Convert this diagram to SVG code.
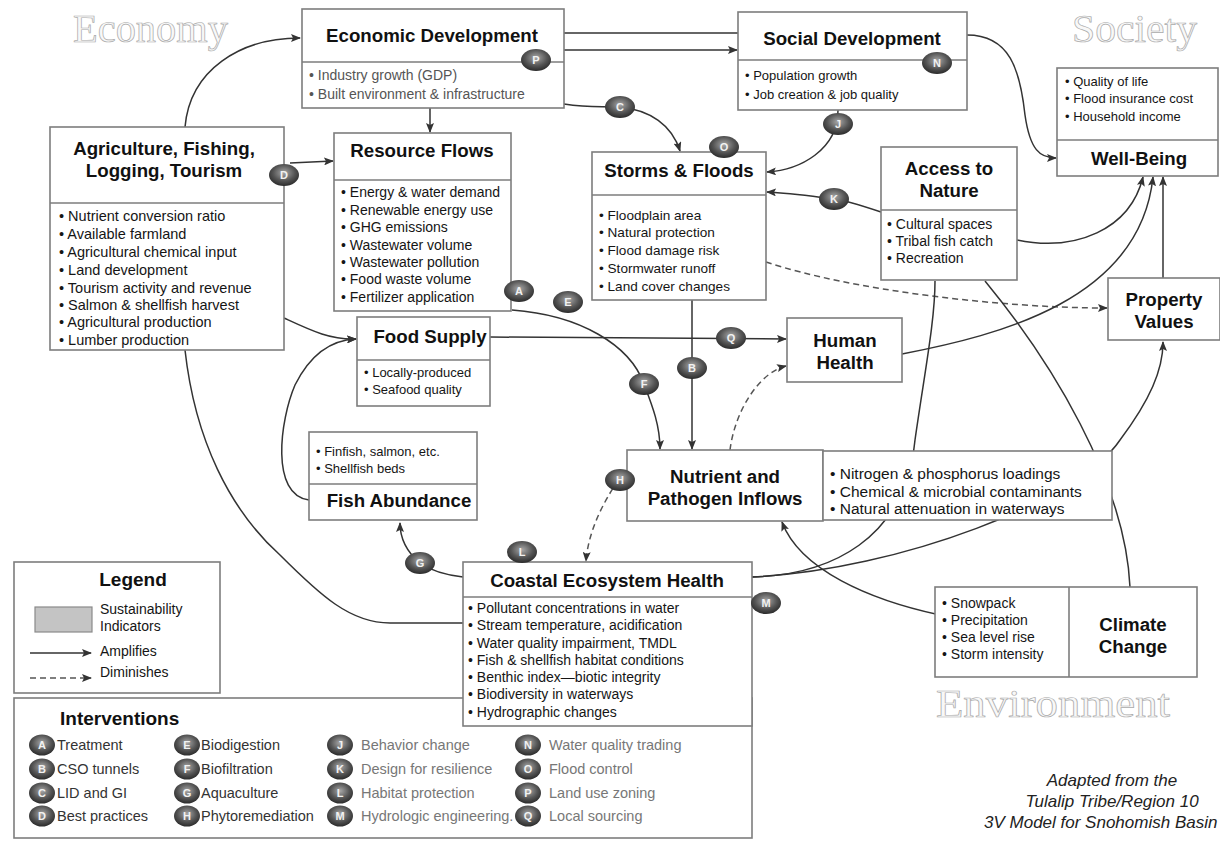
<svg xmlns="http://www.w3.org/2000/svg" width="1220" height="841" viewBox="0 0 1220 841">
<defs>
<style>
.box{fill:#fff;stroke:#7d7d7d;stroke-width:1.6}
.t{font-family:"Liberation Sans",Arial,sans-serif;font-weight:bold;font-size:18.7px;fill:#111;text-anchor:middle}
.b{font-family:"Liberation Sans",Arial,sans-serif;font-size:13px;fill:#151515}
.s136{font-size:13.6px}
.s14{font-size:14px}
.s145{font-size:14.5px}
.s155{font-size:15.5px}
.g{fill:#555}
.c{fill:none;stroke:#333;stroke-width:1.5}
.d{stroke-dasharray:6 4;stroke:#555}
.big{font-family:"Liberation Serif","Times New Roman",serif;font-size:40px;fill:#f8f8f8;stroke:#aaaaaa;stroke-width:0.7}
.bl{font-family:"Liberation Sans",Arial,sans-serif;font-weight:bold;font-size:11px;fill:#f2f2f2;text-anchor:middle}
.iv{font-family:"Liberation Sans",Arial,sans-serif;font-size:14.5px;fill:#333}
.iv2{fill:#777}
.cap{font-family:"Liberation Sans",Arial,sans-serif;font-style:italic;font-size:17px;fill:#222}
</style>
<radialGradient id="bg" cx="0.5" cy="0.4" r="0.6">
<stop offset="0" stop-color="#a8a8a8"/>
<stop offset="0.6" stop-color="#555"/>
<stop offset="1" stop-color="#2b2b2b"/>
</radialGradient>
<marker id="ar" viewBox="0 0 10 8" refX="9" refY="4" markerWidth="10" markerHeight="8" markerUnits="userSpaceOnUse" orient="auto">
<path d="M0,0 L10,4 L0,8 L2,4 z" fill="#333"/>
</marker>
</defs>
<rect width="1220" height="841" fill="#fff"/>

<g id="region-labels">
<text class="big" x="73" y="42" textLength="155" lengthAdjust="spacingAndGlyphs">Economy</text>
<text class="big" x="1072" y="42" textLength="125" lengthAdjust="spacingAndGlyphs">Society</text>
<text class="big" x="936" y="717" font-size="36" textLength="234" lengthAdjust="spacingAndGlyphs">Environment</text>
</g>

<g id="connectors">
<path class="c" d="M185,127 C190,70 240,38 300,38" marker-end="url(#ar)"/>
<path class="c" d="M564,33 L738,33"/>
<path class="c" d="M564,50 L737,50" marker-end="url(#ar)"/>
<path class="c" d="M967,35 C1010,35 1020,70 1025,115 C1030,150 1040,158 1056,158" marker-end="url(#ar)"/>
<path class="c" d="M430,108 L430,132" marker-end="url(#ar)"/>
<path class="c" d="M564,104 C590,108 600,106 620,107 C650,110 672,125 680,151" marker-end="url(#ar)"/>
<path class="c" d="M838,110 C838,150 800,170 767,172" marker-end="url(#ar)"/>
<path class="c" d="M290,163 L333,161" marker-end="url(#ar)"/>
<path class="c" d="M881,212 C860,205 845,200 834,199 C810,196 790,193 767,192" marker-end="url(#ar)"/>
<path class="c d" d="M766,262 C850,290 1000,308 1107,308" marker-end="url(#ar)"/>
<path class="c" d="M1017,240 C1075,252 1130,230 1143,177" marker-end="url(#ar)"/>
<path class="c" d="M902,354 C1000,335 1140,300 1153,177" marker-end="url(#ar)"/>
<path class="c" d="M1163,278 L1163,177" marker-end="url(#ar)"/>
<path class="c" d="M490,337 L786,339" marker-end="url(#ar)"/>
<path class="c" d="M692,300 L692,449" marker-end="url(#ar)"/>
<path class="c" d="M512,310 C580,315 630,345 644,384 C652,405 660,425 660,449" marker-end="url(#ar)"/>
<path class="c" d="M284,318 C310,330 330,340 356,339" marker-end="url(#ar)"/>
<path class="c" d="M309,500 C270,495 280,420 295,385 C310,355 330,340 356,339" marker-end="url(#ar)"/>
<path class="c" d="M185,350 C195,440 230,510 280,555 C320,595 350,623 390,623 L463,623"/>
<path class="c" d="M463,577 C445,575 430,570 420,563 C408,553 400,540 400,523" marker-end="url(#ar)"/>
<path class="c d" d="M624,472 C600,505 588,535 586,561" marker-end="url(#ar)"/>
<path class="c d" d="M730,450 C735,410 760,372 786,366" marker-end="url(#ar)"/>
<path class="c" d="M752,577 C830,575 905,540 915,440 C925,370 935,320 935,281"/>
<path class="c" d="M752,577 C900,570 1080,500 1120,440 C1150,400 1163,370 1163,342" marker-end="url(#ar)"/>
<path class="c" d="M1130,587 C1125,480 1050,360 985,281"/>
<path class="c" d="M940,615 C870,600 800,570 782,522" marker-end="url(#ar)"/>
</g>

<g id="economic-development">
<rect class="box" x="302" y="9" width="262" height="99"/>
<line class="box" x1="302" y1="62" x2="564" y2="62"/>
<text class="t" x="432" y="42">Economic Development</text>
<text class="b g s14" x="309" y="80">• Industry growth (GDP)</text>
<text class="b g s14" x="309" y="99">• Built environment &amp; infrastructure</text>
</g>

<g id="social-development">
<rect class="box" x="738" y="12" width="229" height="98"/>
<line class="box" x1="738" y1="60" x2="967" y2="60"/>
<text class="t" x="852" y="45">Social Development</text>
<text class="b" x="745" y="80">• Population growth</text>
<text class="b" x="745" y="99">• Job creation &amp; job quality</text>
</g>

<g id="well-being">
<rect class="box" x="1057" y="68" width="161" height="108"/>
<line class="box" x1="1057" y1="140" x2="1218" y2="140"/>
<text class="b" x="1065" y="86">• Quality of life</text>
<text class="b" x="1065" y="103">• Flood insurance cost</text>
<text class="b" x="1065" y="121">• Household income</text>
<text class="t" x="1139" y="165">Well-Being</text>
</g>

<g id="agriculture">
<rect class="box" x="50" y="127" width="234" height="223"/>
<line class="box" x1="50" y1="203" x2="284" y2="203"/>
<text class="t" x="164" y="155">Agriculture, Fishing,</text>
<text class="t" x="164" y="177">Logging, Tourism</text>
<text class="b s145" x="59" y="221">• Nutrient conversion ratio</text>
<text class="b s145" x="59" y="239">• Available farmland</text>
<text class="b s145" x="59" y="257">• Agricultural chemical input</text>
<text class="b s145" x="59" y="275">• Land development</text>
<text class="b s145" x="59" y="293">• Tourism activity and revenue</text>
<text class="b s145" x="59" y="310">• Salmon &amp; shellfish harvest</text>
<text class="b s145" x="59" y="327">• Agricultural production</text>
<text class="b s145" x="59" y="345">• Lumber production</text>
</g>

<g id="resource-flows">
<rect class="box" x="334" y="133" width="177" height="178"/>
<line class="box" x1="334" y1="180" x2="511" y2="180"/>
<text class="t" x="422" y="157">Resource Flows</text>
<text class="b s14" x="341" y="197">• Energy &amp; water demand</text>
<text class="b s14" x="341" y="215">• Renewable energy use</text>
<text class="b s14" x="341" y="232">• GHG emissions</text>
<text class="b s14" x="341" y="250">• Wastewater volume</text>
<text class="b s14" x="341" y="267">• Wastewater pollution</text>
<text class="b s14" x="341" y="284">• Food waste volume</text>
<text class="b s14" x="341" y="302">• Fertilizer application</text>
</g>

<g id="storms-floods">
<rect class="box" x="592" y="152" width="174" height="148"/>
<line class="box" x1="592" y1="195" x2="766" y2="195"/>
<text class="t" x="679" y="177">Storms &amp; Floods</text>
<text class="b s136" x="599" y="220">• Floodplain area</text>
<text class="b s136" x="599" y="237">• Natural  protection</text>
<text class="b s136" x="599" y="255">• Flood damage risk</text>
<text class="b s136" x="599" y="273">• Stormwater runoff</text>
<text class="b s136" x="599" y="291">• Land cover changes</text>
</g>

<g id="access-to-nature">
<rect class="box" x="881" y="147" width="136" height="133"/>
<line class="box" x1="881" y1="210" x2="1017" y2="210"/>
<text class="t" x="949" y="175">Access to</text>
<text class="t" x="949" y="197">Nature</text>
<text class="b s14" x="887" y="229">• Cultural spaces</text>
<text class="b s14" x="887" y="246">• Tribal fish catch</text>
<text class="b s14" x="887" y="263">• Recreation</text>
</g>

<g id="property-values">
<rect class="box" x="1108" y="278" width="112" height="62"/>
<text class="t" x="1164" y="306">Property</text>
<text class="t" x="1164" y="328">Values</text>
</g>

<g id="food-supply">
<rect class="box" x="357" y="317" width="133" height="89"/>
<line class="box" x1="357" y1="360" x2="490" y2="360"/>
<text class="t" x="430" y="343">Food Supply</text>
<text class="b" x="364" y="377">• Locally-produced</text>
<text class="b" x="364" y="394">• Seafood quality</text>
</g>

<g id="human-health">
<rect class="box" x="787" y="318" width="115" height="64"/>
<text class="t" x="845" y="347">Human</text>
<text class="t" x="845" y="369">Health</text>
</g>

<g id="fish-abundance">
<rect class="box" x="309" y="432" width="168" height="88"/>
<line class="box" x1="309" y1="484" x2="477" y2="484"/>
<text class="b" x="316" y="456">• Finfish, salmon, etc.</text>
<text class="b" x="316" y="473">• Shellfish beds</text>
<text class="t" x="399" y="507">Fish Abundance</text>
</g>

<g id="nutrient-pathogen-inflows">
<rect class="box" x="627" y="450" width="196" height="71"/>
<rect class="box" x="823" y="451" width="289" height="69"/>
<text class="t" x="725" y="483">Nutrient  and</text>
<text class="t" x="725" y="505">Pathogen Inflows</text>
<text class="b s155" x="830" y="479">• Nitrogen &amp; phosphorus loadings</text>
<text class="b s155" x="830" y="497">• Chemical &amp; microbial contaminants</text>
<text class="b s155" x="830" y="514">• Natural attenuation in waterways</text>
</g>

<g id="interventions">
<rect class="box" x="14" y="698" width="738" height="140"/>
<text x="60" y="725" font-family="Liberation Sans, Arial, sans-serif" font-size="19" font-weight="bold" fill="#111">Interventions</text>
<text class="iv" x="57" y="750">Treatment</text>
<text class="iv" x="57" y="774">CSO tunnels</text>
<text class="iv" x="57" y="798">LID and GI</text>
<text class="iv" x="57" y="821">Best practices</text>
<text class="iv" x="201" y="750">Biodigestion</text>
<text class="iv" x="201" y="774">Biofiltration</text>
<text class="iv" x="201" y="798">Aquaculture</text>
<text class="iv" x="201" y="821">Phytoremediation</text>
<text class="iv iv2" x="361" y="750">Behavior change</text>
<text class="iv iv2" x="361" y="774">Design for resilience</text>
<text class="iv iv2" x="361" y="798">Habitat protection</text>
<text class="iv iv2" x="361" y="821">Hydrologic engineering.</text>
<text class="iv iv2" x="549" y="750">Water quality trading</text>
<text class="iv iv2" x="549" y="774">Flood control</text>
<text class="iv iv2" x="549" y="798">Land use zoning</text>
<text class="iv iv2" x="549" y="821">Local sourcing</text>
<g id="intervention-badges">
<ellipse cx="42" cy="745" rx="13" ry="10.5" fill="url(#bg)"/><text class="bl" x="42" y="749">A</text>
<ellipse cx="42" cy="769" rx="13" ry="10.5" fill="url(#bg)"/><text class="bl" x="42" y="773">B</text>
<ellipse cx="42" cy="793" rx="13" ry="10.5" fill="url(#bg)"/><text class="bl" x="42" y="797">C</text>
<ellipse cx="42" cy="816" rx="13" ry="10.5" fill="url(#bg)"/><text class="bl" x="42" y="820">D</text>
<ellipse cx="187" cy="745" rx="13" ry="10.5" fill="url(#bg)"/><text class="bl" x="187" y="749">E</text>
<ellipse cx="187" cy="769" rx="13" ry="10.5" fill="url(#bg)"/><text class="bl" x="187" y="773">F</text>
<ellipse cx="187" cy="793" rx="13" ry="10.5" fill="url(#bg)"/><text class="bl" x="187" y="797">G</text>
<ellipse cx="187" cy="816" rx="13" ry="10.5" fill="url(#bg)"/><text class="bl" x="187" y="820">H</text>
<ellipse cx="340" cy="745" rx="13" ry="10.5" fill="url(#bg)"/><text class="bl" x="340" y="749">J</text>
<ellipse cx="340" cy="769" rx="13" ry="10.5" fill="url(#bg)"/><text class="bl" x="340" y="773">K</text>
<ellipse cx="340" cy="793" rx="13" ry="10.5" fill="url(#bg)"/><text class="bl" x="340" y="797">L</text>
<ellipse cx="340" cy="816" rx="13" ry="10.5" fill="url(#bg)"/><text class="bl" x="340" y="820">M</text>
<ellipse cx="528" cy="745" rx="13" ry="10.5" fill="url(#bg)"/><text class="bl" x="528" y="749">N</text>
<ellipse cx="528" cy="769" rx="13" ry="10.5" fill="url(#bg)"/><text class="bl" x="528" y="773">O</text>
<ellipse cx="528" cy="793" rx="13" ry="10.5" fill="url(#bg)"/><text class="bl" x="528" y="797">P</text>
<ellipse cx="528" cy="816" rx="13" ry="10.5" fill="url(#bg)"/><text class="bl" x="528" y="820">Q</text>
</g>
</g>

<g id="coastal-ecosystem-health">
<rect class="box" x="463" y="562" width="289" height="164"/>
<line class="box" x1="463" y1="597" x2="752" y2="597"/>
<text class="t" x="607" y="587">Coastal Ecosystem Health</text>
<text class="b s14" x="468" y="613">• Pollutant concentrations in water</text>
<text class="b s14" x="468" y="630">• Stream temperature, acidification</text>
<text class="b s14" x="468" y="648">• Water quality impairment, TMDL</text>
<text class="b s14" x="468" y="665">• Fish &amp; shellfish habitat conditions</text>
<text class="b s14" x="468" y="682">• Benthic index—biotic integrity</text>
<text class="b s14" x="468" y="699">• Biodiversity in waterways</text>
<text class="b s14" x="468" y="717">• Hydrographic changes</text>
</g>

<g id="climate-change">
<rect class="box" x="935" y="587" width="262" height="90"/>
<line class="box" x1="1069" y1="587" x2="1069" y2="677"/>
<text class="b s14" x="942" y="608">• Snowpack</text>
<text class="b s14" x="942" y="625">• Precipitation</text>
<text class="b s14" x="942" y="642">• Sea level rise</text>
<text class="b s14" x="942" y="659">• Storm intensity</text>
<text class="t" x="1133" y="631">Climate</text>
<text class="t" x="1133" y="653">Change</text>
</g>

<g id="legend">
<rect class="box" x="14" y="562" width="206" height="131"/>
<text x="133" y="586" font-family="Liberation Sans, Arial, sans-serif" font-size="19" font-weight="bold" fill="#111" text-anchor="middle">Legend</text>
<rect x="35" y="607" width="57" height="25" fill="#c4c4c4" stroke="#8a8a8a" stroke-width="1.2"/>
<text class="b s14" x="100" y="614">Sustainability</text>
<text class="b s14" x="100" y="631">Indicators</text>
<text class="b s14" x="100" y="656">Amplifies</text>
<text class="b s14" x="100" y="677">Diminishes</text>
<path class="c" d="M30,653 L91,653" marker-end="url(#ar)"/>
<path class="c d" d="M30,678 L91,678" stroke="#333" marker-end="url(#ar)"/>
</g>

<g id="badges">
<ellipse cx="536" cy="60" rx="15" ry="11" fill="url(#bg)"/><text class="bl" x="536" y="64">P</text>
<ellipse cx="937" cy="63" rx="15" ry="11" fill="url(#bg)"/><text class="bl" x="937" y="67">N</text>
<ellipse cx="620" cy="107" rx="15" ry="11" fill="url(#bg)"/><text class="bl" x="620" y="111">C</text>
<ellipse cx="838" cy="124" rx="15" ry="11" fill="url(#bg)"/><text class="bl" x="838" y="128">J</text>
<ellipse cx="724" cy="147" rx="15" ry="11" fill="url(#bg)"/><text class="bl" x="724" y="151">O</text>
<ellipse cx="284" cy="175" rx="15" ry="11" fill="url(#bg)"/><text class="bl" x="284" y="179">D</text>
<ellipse cx="834" cy="199" rx="15" ry="11" fill="url(#bg)"/><text class="bl" x="834" y="203">K</text>
<ellipse cx="519" cy="291" rx="15" ry="11" fill="url(#bg)"/><text class="bl" x="519" y="295">A</text>
<ellipse cx="568" cy="302" rx="15" ry="11" fill="url(#bg)"/><text class="bl" x="568" y="306">E</text>
<ellipse cx="731" cy="338" rx="15" ry="11" fill="url(#bg)"/><text class="bl" x="731" y="342">Q</text>
<ellipse cx="692" cy="368" rx="15" ry="11" fill="url(#bg)"/><text class="bl" x="692" y="372">B</text>
<ellipse cx="644" cy="384" rx="15" ry="11" fill="url(#bg)"/><text class="bl" x="644" y="388">F</text>
<ellipse cx="620" cy="480" rx="15" ry="11" fill="url(#bg)"/><text class="bl" x="620" y="484">H</text>
<ellipse cx="420" cy="563" rx="15" ry="11" fill="url(#bg)"/><text class="bl" x="420" y="567">G</text>
<ellipse cx="522" cy="552" rx="15" ry="11" fill="url(#bg)"/><text class="bl" x="522" y="556">L</text>
<ellipse cx="766" cy="603" rx="15" ry="11" fill="url(#bg)"/><text class="bl" x="766" y="607">M</text>
</g>

<g id="caption">
<text class="cap" x="1112" y="786" text-anchor="middle">Adapted from the</text>
<text class="cap" x="1112" y="807" text-anchor="middle">Tulalip Tribe/Region 10</text>
<text class="cap" x="984" y="828">3V Model for Snohomish Basin</text>
</g>
</svg>
